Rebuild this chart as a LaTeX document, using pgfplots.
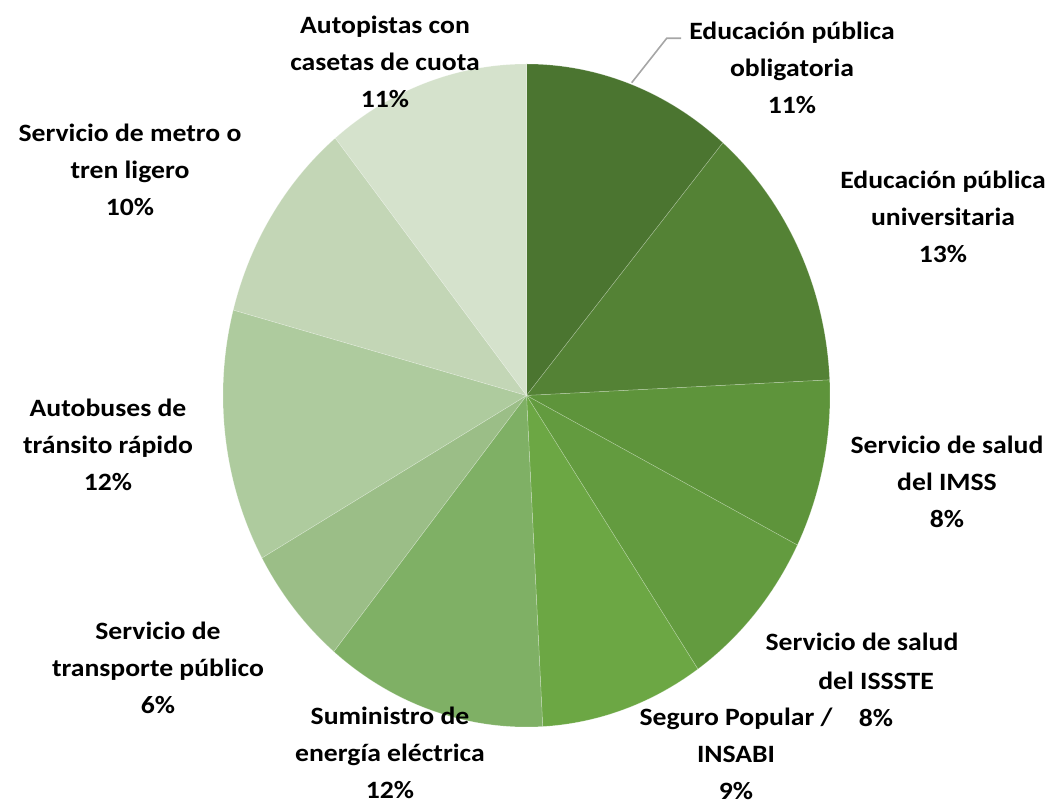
\documentclass[border=0pt]{standalone}
\usepackage{pgfplots}
\pgfplotsset{compat=1.18}
\usepackage{pgfplotstable}
\usepackage{fontspec}
\setmainfont{Carlito}
\newfontfamily\lblfont{Carlito}[FakeStretch=1.11]
\definecolor{c0}{HTML}{4B7530}
\definecolor{c1}{HTML}{548235}
\definecolor{c2}{HTML}{5E943B}
\definecolor{c3}{HTML}{639B3F}
\definecolor{c4}{HTML}{6CA744}
\definecolor{c5}{HTML}{7FB065}
\definecolor{c6}{HTML}{9BBE87}
\definecolor{c7}{HTML}{AECB9E}
\definecolor{c8}{HTML}{C3D6B6}
\definecolor{c9}{HTML}{D5E2CC}
\pgfplotstableread{
idx value
0 11.2
1 13.05
2 8.2
3 8.0
4 8.7
5 11.8
6 5.9
7 12.3
8 10.0
9 10.85
}\pietable
\def\cum{0}
\pgfplotsforeachungrouped \i in {0,...,9}{%
  \pgfplotstablegetelem{\i}{value}\of\pietable
  \pgfmathsetmacro\sa{90-3.6*\cum}%
  \pgfmathsetmacro\newcum{\cum+\pgfplotsretval}%
  \pgfmathsetmacro\ea{90-3.6*\newcum}%
  \expandafter\xdef\csname pieSA\i\endcsname{\sa}%
  \expandafter\xdef\csname pieEA\i\endcsname{\ea}%
  \xdef\cum{\newcum}%
}
\begin{document}
\begin{tikzpicture}
\begin{axis}[x=0.75pt, y=0.75pt, xmin=0, xmax=1053, ymin=0, ymax=804,
  hide axis, clip=false, scale only axis]
\path (axis cs:0,0) rectangle (axis cs:1053,804);
\pgfplotsinvokeforeach{0,...,9}{
  \fill[c#1, draw=white, draw opacity=0.3, line width=0.4pt] (axis cs:526.5,408.5)
    -- ++({\csname pieSA#1\endcsname}:227.625pt and 248.625pt)
    arc[start angle={\csname pieSA#1\endcsname}, end angle={\csname pieEA#1\endcsname},
        x radius=227.625pt, y radius=248.625pt] -- cycle;
}
\draw[color=black!35, line width=1.2pt] (axis cs:631.7,721.3) -- (axis cs:666.7,765.7) -- (axis cs:681,765.7);
\tikzset{lbl/.style={align=center, inner sep=0pt, font={\fontsize{18.7}{27.7}\selectfont\lblfont\bfseries}}}
\node[lbl] at (axis cs:792,736) {Educación pública\\obligatoria\\11\%};
\node[lbl] at (axis cs:943,587) {Educación pública\\universitaria\\13\%};
\node[lbl] at (axis cs:947,322) {Servicio de salud\\del IMSS\\8\%};
\node[lbl] at (axis cs:862,162) {Servicio de salud};
\node[lbl] at (axis cs:876,105) {del ISSSTE\\8\%};
\node[lbl] at (axis cs:736,50) {Seguro Popular /\\INSABI\\9\%};
\node[lbl] at (axis cs:390,51) {Suministro de\\energía eléctrica\\12\%};
\node[lbl] at (axis cs:158,136) {Servicio de\\transporte público\\6\%};
\node[lbl] at (axis cs:108,359) {Autobuses de\\tránsito rápido\\12\%};
\node[lbl] at (axis cs:130,634) {Servicio de metro o\\tren ligero\\10\%};
\node[lbl] at (axis cs:385,742) {Autopistas con\\casetas de cuota\\11\%};
\end{axis}
\end{tikzpicture}
\end{document}
